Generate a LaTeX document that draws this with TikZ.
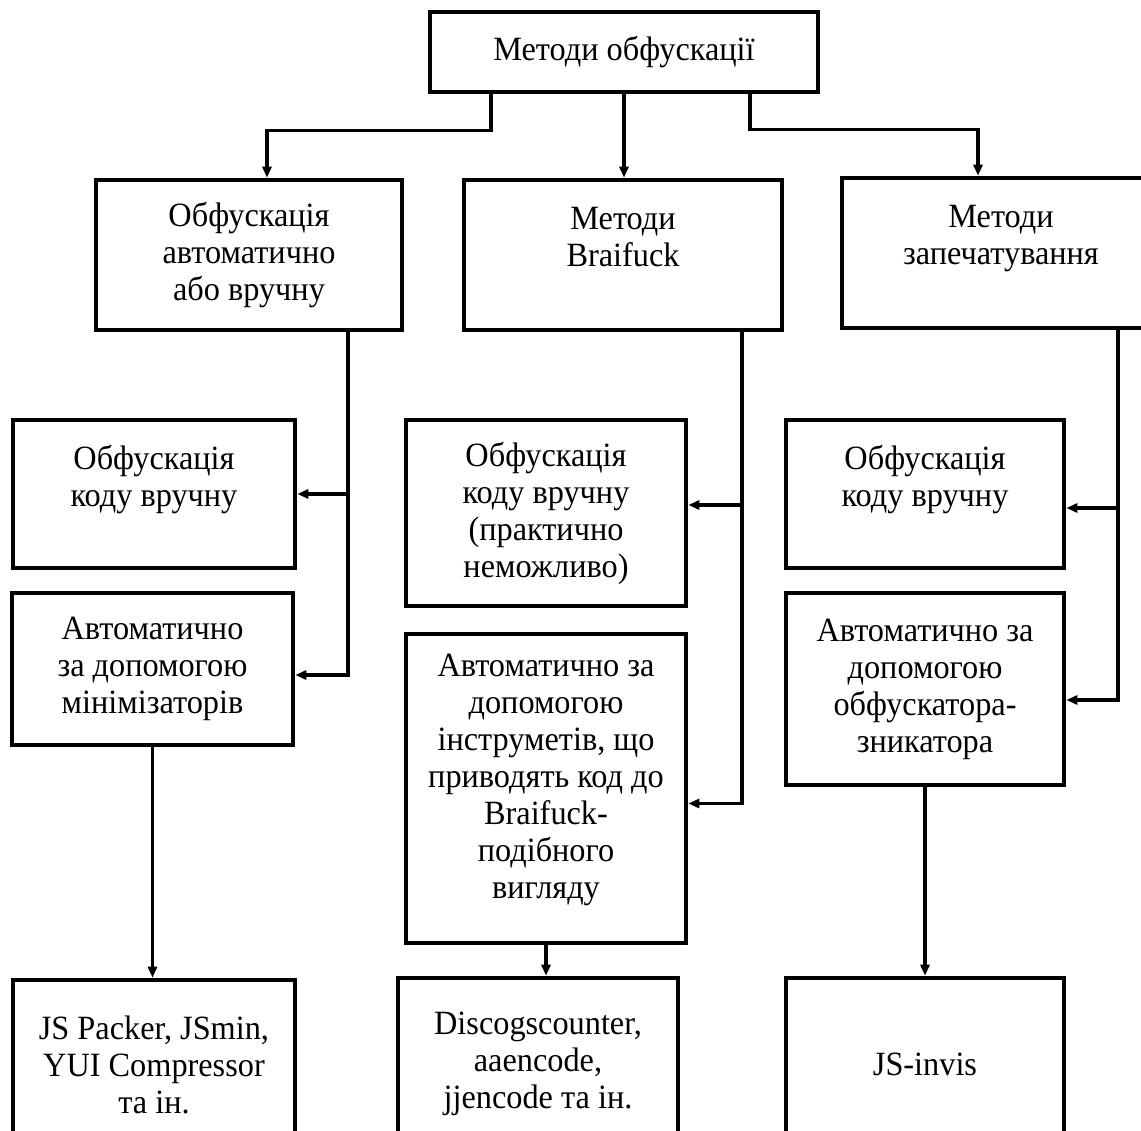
\documentclass[tikz,border=0pt]{standalone}
\usepackage{fontspec}
\setmainfont{Liberation Serif}[FakeStretch=0.95]
\usetikzlibrary{arrows.meta,calc}
\begin{document}
\begin{tikzpicture}[x=1pt,y=-1pt,
  box/.style={draw,line width=4.6pt,rectangle,align=center,inner sep=0pt,
    font=\fontsize{34}{37}\selectfont},
  conn/.style={line width=3.2pt,-{Triangle[length=11pt,width=9pt]}}]
\clip (0,0) rectangle (1141,1131);
\fill[white] (0,0) rectangle (1141,1131);
% nodes
\node[box,minimum width=388pt,minimum height=80pt] (top) at (624,52) {Методи обфускації};
\node[box,minimum width=306pt,minimum height=150pt] (A) at (249,255) {Обфускація\\автоматично\\або вручну};
\node[box,minimum width=318pt,minimum height=150pt] (B) at (623,255) {Методи\\Braifuck\\\mbox{}};
\node[box,minimum width=318pt,minimum height=150pt] (C) at (1001,253) {Методи\\запечатування\\\mbox{}};
\node[box,minimum width=282pt,minimum height=148pt] (L1) at (154,494) {Обфускація\\коду вручну\\\mbox{}};
\node[box,minimum width=281pt,minimum height=152pt] (L2) at (152.5,669) {Автоматично\\за допомогою\\мінімізаторів};
\node[box,minimum width=282pt,minimum height=170pt] (L3) at (154,1065) {JS Packer, JSmin,\\YUI Compressor\\та ін.};
\node[box,minimum width=280pt,minimum height=186pt] (M1) at (546,513) {Обфускація\\коду вручну\\(практично\\неможливо)};
\node[box,minimum width=280pt,minimum height=309pt] (M2) at (546,788.5) {Автоматично за\\допомогою\\інструметів, що\\приводять код до\\Braifuck-\\подібного\\вигляду\\[-12pt]\mbox{}};
\node[box,minimum width=280pt,minimum height=172pt] (M3) at (538,1064) {Discogscounter,\\aaencode,\\jjencode та ін.};
\node[box,minimum width=278pt,minimum height=148pt] (R1) at (925,494) {Обфускація\\коду вручну\\\mbox{}};
\node[box,minimum width=278pt,minimum height=192pt] (R2) at (925,689) {Автоматично за\\допомогою\\обфускатора-\\зникатора};
\node[box,minimum width=278pt,minimum height=172pt] (R3) at (925,1064) {JS-invis};
% top connectors
\draw[conn] ([xshift=-133pt]top.south) -- ++(0,36) -| ([xshift=18pt]A.north);
\draw[conn] (top.south) -- (top.south |- B.north);
\draw[conn] ([xshift=126pt]top.south) -- ++(0,35) -| ([xshift=-23pt]C.north);
% left column
\draw[conn] ([xshift=99pt]A.south) |- ([yshift=-6pt]L2.east);
\draw[conn] ([xshift=99pt]A.south |- L1.east) -- (L1.east);
\draw[conn] (L2.south) -- (L2.south |- L3.north);
% middle column
\draw[conn] ([xshift=119pt]B.south) |- ([yshift=-15pt]M2.east);
\draw[conn] ([xshift=119pt,yshift=8pt]B.south |- M1.east) -- ([yshift=8pt]M1.east);
\draw[conn] (M2.south) -- (M2.south |- M3.north);
% right column
\draw[conn] ([xshift=117pt]C.south) |- ([yshift=-11pt]R2.east);
\draw[conn] ([xshift=117pt,yshift=-14pt]C.south |- R1.east) -- ([yshift=-14pt]R1.east);
\draw[conn] (R2.south) -- (R2.south |- R3.north);
\end{tikzpicture}
\end{document}
